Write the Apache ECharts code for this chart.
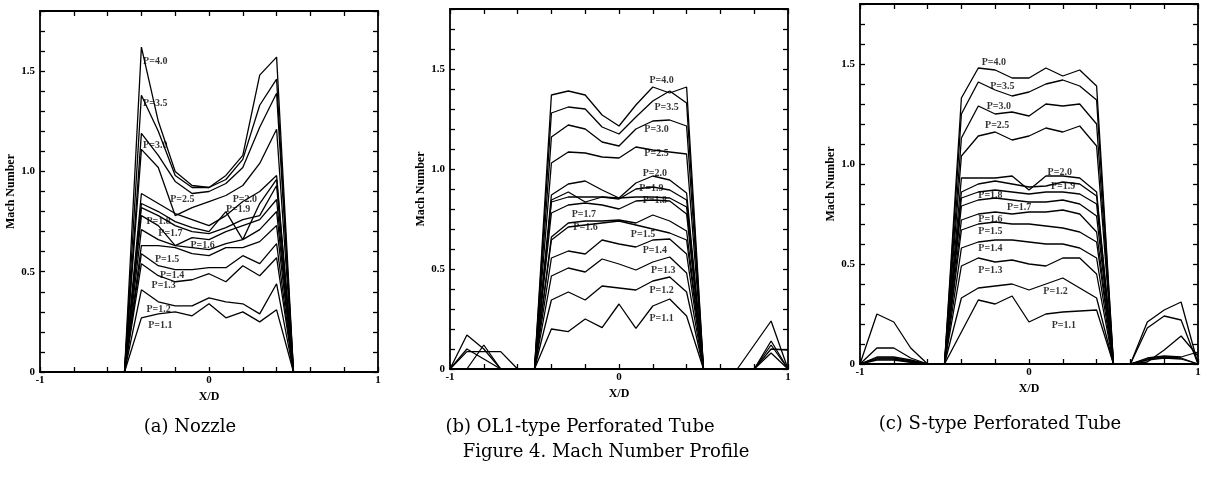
<!DOCTYPE html>
<html>
<head>
<meta charset="utf-8">
<script src="https://cdn.jsdelivr.net/npm/echarts@6/dist/echarts.min.js"></script>
<style>
html,body{margin:0;padding:0;background:#fff;}
#chart{width:1207px;height:478px;}
</style>
</head>
<body>
<div id="chart"></div>
<script>
// ---- data ----
const xCore = [-0.5, -0.4, -0.3, -0.2, -0.1, 0, 0.1, 0.2, 0.3, 0.4, 0.5];
const pLevels = ['4.0', '3.5', '3.0', '2.5', '2.0', '1.9', '1.8', '1.7', '1.6', '1.5', '1.4', '1.3', '1.2', '1.1'];

// (a) Nozzle, rows follow pLevels
const nozzleMach = [
  [0, 1.62, 1.25, 1.00, 0.93, 0.92, 0.98, 1.08, 1.48, 1.57, 0],
  [0, 1.38, 1.20, 0.98, 0.92, 0.92, 0.96, 1.06, 1.33, 1.46, 0],
  [0, 1.19, 1.08, 0.95, 0.89, 0.90, 0.94, 1.02, 1.22, 1.39, 0],
  [0, 1.11, 1.02, 0.78, 0.82, 0.85, 0.88, 0.93, 1.04, 1.21, 0],
  [0, 0.89, 0.84, 0.79, 0.76, 0.73, 0.78, 0.85, 0.90, 0.98, 0],
  [0, 0.84, 0.80, 0.75, 0.72, 0.70, 0.80, 0.66, 0.84, 0.96, 0],
  [0, 0.82, 0.78, 0.73, 0.70, 0.69, 0.72, 0.76, 0.78, 0.93, 0],
  [0, 0.78, 0.73, 0.63, 0.67, 0.66, 0.70, 0.73, 0.76, 0.86, 0],
  [0, 0.71, 0.66, 0.63, 0.62, 0.61, 0.64, 0.66, 0.71, 0.80, 0],
  [0, 0.63, 0.63, 0.62, 0.59, 0.58, 0.62, 0.62, 0.65, 0.73, 0],
  [0, 0.59, 0.53, 0.51, 0.51, 0.52, 0.52, 0.58, 0.54, 0.64, 0],
  [0, 0.54, 0.48, 0.45, 0.46, 0.49, 0.45, 0.53, 0.48, 0.57, 0],
  [0, 0.41, 0.35, 0.33, 0.33, 0.37, 0.35, 0.34, 0.29, 0.44, 0],
  [0, 0.27, 0.29, 0.30, 0.28, 0.34, 0.27, 0.30, 0.25, 0.31, 0]
];

// (b) OL1-type perforated tube
const ol1Mach = [
  [0, 1.37, 1.39, 1.37, 1.27, 1.215, 1.32, 1.41, 1.38, 1.41, 0],
  [0, 1.28, 1.31, 1.30, 1.21, 1.175, 1.26, 1.34, 1.39, 1.33, 0],
  [0, 1.16, 1.22, 1.20, 1.135, 1.115, 1.20, 1.24, 1.245, 1.215, 0],
  [0, 1.03, 1.085, 1.08, 1.06, 1.055, 1.11, 1.095, 1.085, 1.075, 0],
  [0, 0.87, 0.925, 0.94, 0.895, 0.855, 0.93, 0.965, 0.945, 0.88, 0],
  [0, 0.845, 0.885, 0.835, 0.86, 0.85, 0.90, 0.91, 0.895, 0.845, 0],
  [0, 0.835, 0.86, 0.86, 0.86, 0.855, 0.86, 0.86, 0.855, 0.81, 0],
  [0, 0.78, 0.82, 0.83, 0.82, 0.80, 0.84, 0.845, 0.84, 0.775, 0],
  [0, 0.66, 0.73, 0.74, 0.74, 0.745, 0.73, 0.77, 0.74, 0.69, 0],
  [0, 0.645, 0.71, 0.72, 0.73, 0.74, 0.72, 0.70, 0.68, 0.645, 0],
  [0, 0.555, 0.59, 0.575, 0.645, 0.625, 0.61, 0.645, 0.65, 0.575, 0],
  [0, 0.465, 0.505, 0.485, 0.55, 0.525, 0.495, 0.535, 0.56, 0.48, 0],
  [0, 0.345, 0.385, 0.345, 0.415, 0.405, 0.395, 0.44, 0.46, 0.385, 0],
  [0, 0.20, 0.187, 0.25, 0.207, 0.325, 0.203, 0.315, 0.35, 0.265, 0]
];
const ol1BumpLeftX = [-1.0, -0.9, -0.8, -0.7, -0.6];
const ol1BumpLeft = [
  [0, 0.17, 0.10, 0, 0],
  [0, 0, 0.12, 0, 0],
  [0, 0.087, 0.087, 0.087, 0],
  [0, 0.10, 0.05, 0, 0]
];
const ol1BumpRightX = [0.7, 0.8, 0.9, 1.0];
const ol1BumpRight = [
  [0, 0.12, 0.24, 0],
  [0, 0, 0.14, 0],
  [0, 0, 0.12, 0],
  [0, 0, 0.10, 0.095],
  [0, 0, 0.08, 0]
];

// (c) S-type perforated tube
const sMach = [
  [0, 1.33, 1.48, 1.47, 1.43, 1.43, 1.48, 1.44, 1.47, 1.39, 0],
  [0, 1.25, 1.41, 1.37, 1.34, 1.36, 1.40, 1.42, 1.39, 1.32, 0],
  [0, 1.13, 1.29, 1.25, 1.26, 1.24, 1.30, 1.29, 1.30, 1.20, 0],
  [0, 1.04, 1.14, 1.16, 1.12, 1.14, 1.18, 1.16, 1.19, 1.09, 0],
  [0, 0.93, 0.93, 0.93, 0.94, 0.87, 0.94, 0.94, 0.93, 0.86, 0],
  [0, 0.86, 0.90, 0.915, 0.90, 0.885, 0.89, 0.91, 0.90, 0.84, 0],
  [0, 0.83, 0.86, 0.87, 0.86, 0.85, 0.86, 0.86, 0.85, 0.80, 0],
  [0, 0.79, 0.82, 0.83, 0.82, 0.81, 0.81, 0.82, 0.80, 0.74, 0],
  [0, 0.72, 0.75, 0.76, 0.75, 0.76, 0.76, 0.77, 0.75, 0.66, 0],
  [0, 0.67, 0.70, 0.71, 0.70, 0.70, 0.69, 0.68, 0.66, 0.61, 0],
  [0, 0.58, 0.61, 0.62, 0.62, 0.61, 0.60, 0.60, 0.58, 0.53, 0],
  [0, 0.49, 0.53, 0.51, 0.52, 0.50, 0.49, 0.53, 0.53, 0.45, 0],
  [0, 0.33, 0.38, 0.39, 0.40, 0.37, 0.40, 0.43, 0.38, 0.33, 0],
  [0, 0.16, 0.32, 0.30, 0.34, 0.21, 0.25, 0.26, 0.265, 0.27, 0]
];
const sBumpLeftX = [-1.0, -0.9, -0.8, -0.7, -0.6];
const sBumpLeft = [
  [0, 0.25, 0.21, 0.08, 0],
  [0, 0.08, 0.08, 0.03, 0],
  [0, 0.035, 0.035, 0.02, 0],
  [0, 0.03, 0.03, 0.015, 0],
  [0, 0.025, 0.025, 0.01, 0],
  [0, 0.02, 0.02, 0.008, 0]
];
const sBumpRightX = [0.6, 0.7, 0.8, 0.9, 1.0];
const sBumpRight = [
  [0, 0.21, 0.27, 0.31, 0],
  [0, 0.18, 0.24, 0.22, 0],
  [0, 0.01, 0.07, 0.14, 0.04],
  [0, 0.03, 0.04, 0.035, 0.06],
  [0, 0.025, 0.035, 0.03, 0],
  [0, 0.02, 0.03, 0.025, 0]
];

// curve labels [x, Mach, text]
const nozzleLabels = [
  [-0.39, 1.55, 'P=4.0'], [-0.39, 1.34, 'P=3.5'], [-0.39, 1.13, 'P=3.0'],
  [-0.23, 0.86, 'P=2.5'], [0.14, 0.86, 'P=2.0'], [0.10, 0.81, 'P=1.9'],
  [-0.37, 0.75, 'P=1.8'], [-0.30, 0.69, 'P=1.7'], [-0.11, 0.63, 'P=1.6'],
  [-0.32, 0.56, 'P=1.5'], [-0.29, 0.48, 'P=1.4'], [-0.34, 0.43, 'P=1.3'],
  [-0.37, 0.31, 'P=1.2'], [-0.36, 0.23, 'P=1.1']
];
const ol1Labels = [
  [0.18, 1.445, 'P=4.0'], [0.21, 1.31, 'P=3.5'], [0.15, 1.20, 'P=3.0'],
  [0.15, 1.078, 'P=2.5'], [0.14, 0.978, 'P=2.0'], [0.12, 0.903, 'P=1.9'],
  [0.14, 0.845, 'P=1.8'], [-0.28, 0.773, 'P=1.7'], [-0.27, 0.707, 'P=1.6'],
  [0.07, 0.673, 'P=1.5'], [0.14, 0.595, 'P=1.4'], [0.19, 0.495, 'P=1.3'],
  [0.18, 0.392, 'P=1.2'], [0.18, 0.253, 'P=1.1']
];
const sLabels = [
  [-0.28, 1.51, 'P=4.0'], [-0.23, 1.387, 'P=3.5'], [-0.25, 1.29, 'P=3.0'],
  [-0.26, 1.195, 'P=2.5'], [0.11, 0.958, 'P=2.0'], [0.13, 0.887, 'P=1.9'],
  [-0.30, 0.845, 'P=1.8'], [-0.13, 0.783, 'P=1.7'], [-0.30, 0.723, 'P=1.6'],
  [-0.30, 0.662, 'P=1.5'], [-0.30, 0.578, 'P=1.4'], [-0.30, 0.47, 'P=1.3'],
  [0.085, 0.362, 'P=1.2'], [0.134, 0.195, 'P=1.1']
];

const xTickLabels = { '-1': '-1', '0': '0', '1': '1' };
const yTickLabels = { '0': '0', '5': '0.5', '10': '1.0', '15': '1.5' };
const captions = ['(a) Nozzle', '(b) OL1-type Perforated Tube', '(c) S-type Perforated Tube'];
const figureTitle = 'Figure 4. Mach Number Profile';

// ---- build ----
const grids = [
  { left: 40, top: 11, width: 338, height: 361 },
  { left: 450, top: 9, width: 338, height: 360 },
  { left: 860, top: 4, width: 338, height: 360 }
];
const labelFont = 'Liberation Serif';
const axisColor = '#000';
const xAxes = [], yAxes = [], series = [];

grids.forEach((g, i) => {
  const common = {
    gridIndex: i, type: 'value',
    axisLine: { show: true, onZero: false, lineStyle: { color: axisColor, width: 1.8 } },
    axisTick: { show: true, inside: true, length: 5, lineStyle: { color: axisColor, width: 1.3 } },
    splitLine: { show: false }
  };
  xAxes.push(Object.assign({}, common, {
    position: 'bottom', min: -1, max: 1, interval: 0.2,
    name: 'X/D', nameLocation: 'middle', nameGap: 18,
    nameTextStyle: { fontFamily: labelFont, fontWeight: 'bold', fontSize: 12, color: '#000' },
    axisLabel: {
      margin: 3, fontFamily: labelFont, fontWeight: 'bold', fontSize: 11, color: '#000',
      formatter: v => { const k = String(Math.round(v * 10) / 10); return xTickLabels[k] || ''; }
    }
  }));
  xAxes.push(Object.assign({}, common, {
    position: 'top', min: -1, max: 1, interval: 0.2, axisLabel: { show: false }
  }));
  yAxes.push(Object.assign({}, common, {
    position: 'left', min: 0, max: 1.8, interval: 0.1,
    name: 'Mach Number', nameLocation: 'middle', nameGap: 22,
    nameTextStyle: { fontFamily: labelFont, fontWeight: 'bold', fontSize: 12, color: '#000' },
    axisLabel: {
      margin: 5, fontFamily: labelFont, fontWeight: 'bold', fontSize: 11, color: '#000',
      formatter: v => { const k = String(Math.round(v * 10)); return yTickLabels[k] || ''; }
    }
  }));
  yAxes.push(Object.assign({}, common, {
    position: 'right', min: 0, max: 1.8, interval: 0.1, axisLabel: { show: false }
  }));
});

function addLine(panel, xs, ys) {
  series.push({
    type: 'line', xAxisIndex: panel * 2, yAxisIndex: panel * 2,
    data: xs.map((x, k) => [x, ys[k]]),
    symbol: 'none', silent: true, animation: false,
    lineStyle: { color: '#000', width: 1.3 }
  });
}
function addLabels(panel, labels) {
  series.push({
    type: 'scatter', xAxisIndex: panel * 2, yAxisIndex: panel * 2,
    data: labels, symbolSize: 0, silent: true, animation: false,
    label: {
      show: true, position: 'right', distance: 0,
      fontFamily: labelFont, fontWeight: 'bold', fontSize: 10, color: '#000',
      formatter: p => p.data[2]
    }
  });
}

nozzleMach.forEach(r => addLine(0, xCore, r));
ol1Mach.forEach(r => addLine(1, xCore, r));
ol1BumpLeft.forEach(r => addLine(1, ol1BumpLeftX, r));
ol1BumpRight.forEach(r => addLine(1, ol1BumpRightX, r));
sMach.forEach(r => addLine(2, xCore, r));
sBumpLeft.forEach(r => addLine(2, sBumpLeftX, r));
sBumpRight.forEach(r => addLine(2, sBumpRightX, r));
addLabels(0, nozzleLabels);
addLabels(1, ol1Labels);
addLabels(2, sLabels);

const capFont = '18px "DejaVu Serif"';
const graphic = [
  { type: 'text', x: 190, y: 427, style: { text: captions[0], font: capFont, fill: '#000', textAlign: 'center', textVerticalAlign: 'middle' } },
  { type: 'text', x: 580, y: 427, style: { text: captions[1], font: capFont, fill: '#000', textAlign: 'center', textVerticalAlign: 'middle' } },
  { type: 'text', x: 1000, y: 424, style: { text: captions[2], font: capFont, fill: '#000', textAlign: 'center', textVerticalAlign: 'middle' } },
  { type: 'text', x: 606, y: 452, style: { text: figureTitle, font: capFont, fill: '#000', textAlign: 'center', textVerticalAlign: 'middle' } }
];

const chart = echarts.init(document.getElementById('chart'), null, { renderer: 'canvas' });
chart.setOption({
  animation: false,
  backgroundColor: '#fff',
  grid: grids,
  xAxis: xAxes,
  yAxis: yAxes,
  series: series,
  graphic: graphic
});
</script>
</body>
</html>
